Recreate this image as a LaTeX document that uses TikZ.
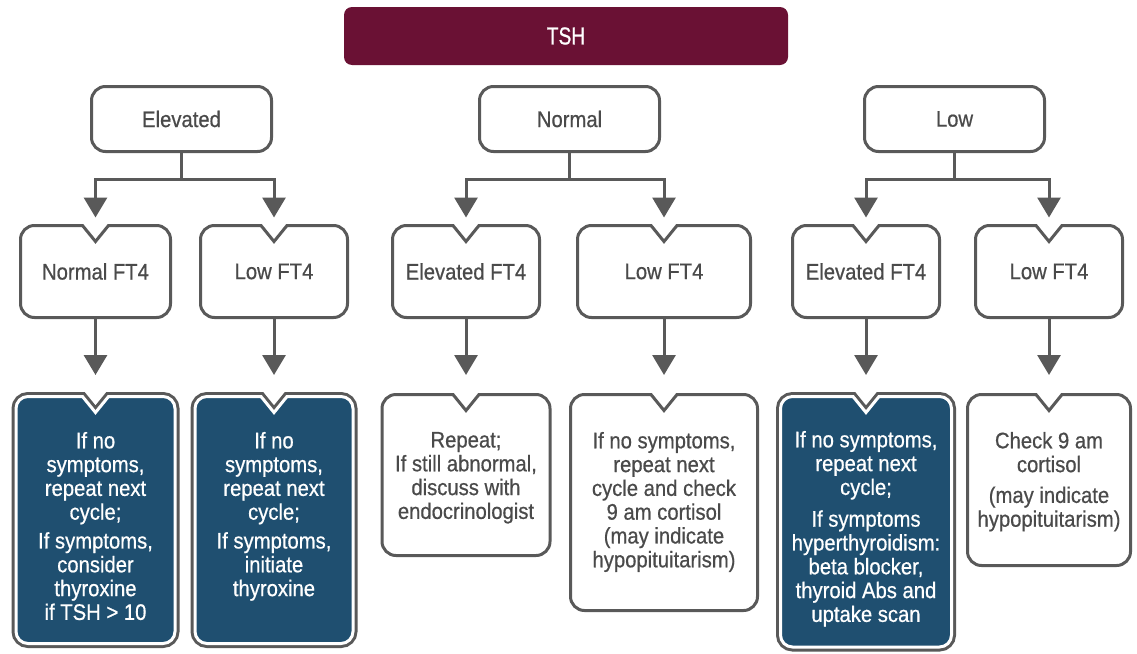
\documentclass[tikz,border=0pt]{standalone}
\usepackage{fontspec}
\setmainfont{Liberation Sans}[FakeStretch=0.9,FakeBold=0.6]
\newfontfamily\tshfont{Liberation Sans}[FakeStretch=0.78,FakeBold=0.8]
\usetikzlibrary{arrows.meta,calc}
\definecolor{linegray}{HTML}{595959}
\definecolor{txtgray}{HTML}{4A4A4A}
\definecolor{darkblue}{HTML}{1F4F70}
\definecolor{tshred}{HTML}{6A1134}
\newcommand\bodyfont{\fontsize{22.5}{23.8}\selectfont}
\newcommand\notchpath[2]{([xshift=13pt]#1.north) -- ([xshift=-#2]#1.north east) arc[start angle=90,end angle=0,radius=#2] -- ([yshift=#2]#1.south east) arc[start angle=0,end angle=-90,radius=#2] -- ([xshift=#2]#1.south west) arc[start angle=-90,end angle=-180,radius=#2] -- ([yshift=-#2]#1.north west) arc[start angle=180,end angle=90,radius=#2] -- ([xshift=-13pt]#1.north) -- ([yshift=-16pt]#1.north) -- cycle}
\tikzset{
  lc/.style={draw=linegray, line width=3pt},
  arr/.style={lc, -{Triangle[length=20pt,width=23pt]}},
  tshbox/.style={fill=tshred, rounded corners=8pt, inner sep=0pt, outer sep=0pt, text=white, font=\tshfont\fontsize{24.5}{26}\selectfont},
  rbox/.style={lc, fill=white, rounded corners=14pt, inner sep=0pt, outer sep=0pt, minimum width=180pt, minimum height=65pt, text=txtgray, font=\bodyfont},
  nbox/.style={inner sep=0pt, outer sep=0pt, minimum height=92pt, text=txtgray, font=\bodyfont},
  sbox/.style={inner sep=0pt, outer sep=0pt},
  txt/.style={inner sep=0pt, outer sep=0pt, anchor=north, align=center, text=txtgray, font=\bodyfont},
  wtxt/.style={txt, text=white},
}
\begin{document}
\begin{tikzpicture}[x=1pt,y=1pt]
\fill[white] (0,0) rectangle (1137,-653);
\useasboundingbox (0,0) rectangle (1137,-653);

% top
\node[tshbox, minimum width=444pt, minimum height=58pt] (tsh) at (566,-36) {TSH};

% row 1
\node[rbox] (elev) at (181.5,-119) {\raisebox{-1.5pt}{Elevated}};
\node[rbox] (norm) at (569.5,-119) {\raisebox{-1.5pt}{Normal}};
\node[rbox] (low) at (954.5,-119) {\raisebox{-1.5pt}{Low}};

% row 2
\node[nbox, minimum width=150pt] (nft4) at (95.5,-271.5) {\raisebox{-1.5pt}{Normal FT4}};
\node[nbox, minimum width=147pt] (lfa) at (274,-271.5) {\raisebox{-1.5pt}{Low FT4}};
\node[nbox, minimum width=147pt] (efb) at (466,-271.5) {\raisebox{-1.5pt}{Elevated FT4}};
\node[nbox, minimum width=173pt] (lfb) at (664,-271.5) {\raisebox{-1.5pt}{Low FT4}};
\node[nbox, minimum width=147pt] (efc) at (866,-271.5) {\raisebox{-1.5pt}{Elevated FT4}};
\node[nbox, minimum width=147pt] (lfc) at (1049,-271.5) {\raisebox{-1.5pt}{Low FT4}};
\foreach \n in {nft4,lfa,efb,lfb,efc,lfc}{\draw[lc] \notchpath{\n}{14pt};}

% row 3 shapes
\node[sbox, minimum width=159pt, minimum height=247pt] (d1) at (95.5,-520) {};
\node[sbox, minimum width=158pt, minimum height=247pt] (d2) at (274,-520) {};
\node[sbox, minimum width=168pt, minimum height=161pt] (w1) at (466,-475) {};
\node[sbox, minimum width=187pt, minimum height=216pt] (w2) at (664,-502.5) {};
\node[sbox, minimum width=171pt, minimum height=250.5pt] (d3) at (866,-521.75) {};
\node[sbox, minimum width=163pt, minimum height=171pt] (w3) at (1049,-480) {};
\foreach \n in {d1,d2,d3}{
  \draw[draw=linegray, line width=9pt] \notchpath{\n}{12pt};
  \draw[fill=darkblue, draw=white, line width=3pt] \notchpath{\n}{12pt};
}
\foreach \n in {w1,w2,w3}{\draw[lc] \notchpath{\n}{14pt};}

% row 3 texts
\node[wtxt] (t1) at ([yshift=-35.5pt]d1.north) {If no\\symptoms,\\repeat next\\cycle;\\[5pt]If symptoms,\\consider\\thyroxine\\if TSH > 10};
\node[wtxt] (t2) at ([yshift=-35.5pt]d2.north) {If no\\symptoms,\\repeat next\\cycle;\\[5pt]If symptoms,\\initiate\\thyroxine};
\node[txt] (t3) at ([yshift=-37.5pt]w1.north) {Repeat;\\If still abnormal,\\discuss with\\endocrinologist};
\node[txt] (t4) at ([yshift=-37.5pt]w2.north) {If no symptoms,\\repeat next\\cycle and check\\9 am cortisol\\(may indicate\\hypopituitarism)};
\node[wtxt] (t5) at ([yshift=-34.5pt]d3.north) {If no symptoms,\\repeat next\\cycle;\\[8pt]If symptoms\\hyperthyroidism:\\beta blocker,\\thyroid Abs and\\uptake scan};
\node[txt] (t6) at ([yshift=-37.5pt]w3.north) {Check 9 am\\cortisol\\[7pt](may indicate\\hypopituitarism)};

% connectors row1 -> row2
\coordinate (je) at ($(elev.south)+(0,-27.5)$);
\coordinate (jn) at ($(norm.south)+(0,-27.5)$);
\coordinate (jl) at ($(low.south)+(0,-27.5)$);
\draw[lc] (elev.south) -- (je);
\draw[lc] (norm.south) -- (jn);
\draw[lc] (low.south) -- (jl);
\draw[arr] (je) -| ([yshift=8pt]nft4.north);
\draw[arr] (je) -| ([yshift=8pt]lfa.north);
\draw[arr] (jn) -| ([yshift=8pt]efb.north);
\draw[arr] (jn) -| ([yshift=8pt]lfb.north);
\draw[arr] (jl) -| ([yshift=8pt]efc.north);
\draw[arr] (jl) -| ([yshift=8pt]lfc.north);

% connectors row2 -> row3
\draw[arr] (nft4.south) -- ([yshift=21.5pt]d1.north);
\draw[arr] (lfa.south) -- ([yshift=21.5pt]d2.north);
\draw[arr] (efb.south) -- ([yshift=19.5pt]w1.north);
\draw[arr] (lfb.south) -- ([yshift=19.5pt]w2.north);
\draw[arr] (efc.south) -- ([yshift=21.5pt]d3.north);
\draw[arr] (lfc.south) -- ([yshift=19.5pt]w3.north);
\end{tikzpicture}
\end{document}
